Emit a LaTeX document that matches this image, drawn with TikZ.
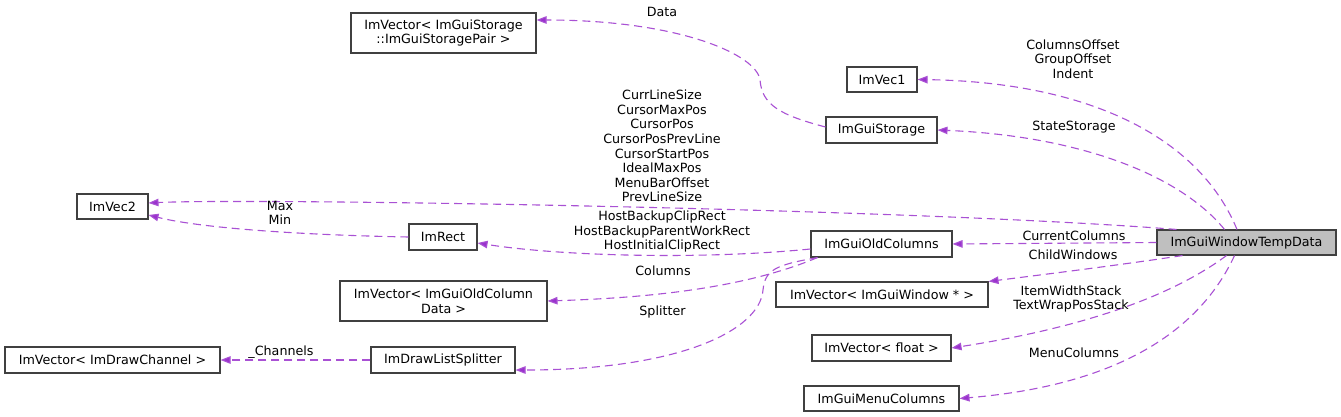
\documentclass[tikz,border=0pt]{standalone}
\usepackage{fontspec}
\setmainfont{DejaVu Sans}
\usetikzlibrary{arrows.meta}
\definecolor{edgec}{HTML}{9A32CD}
\definecolor{boxc}{HTML}{404040}
\definecolor{hifill}{HTML}{BFBFBF}
\begin{document}
\begin{tikzpicture}[x=1pt,y=-1pt,
  every node/.style={font=\fontsize{12.7}{14.6}\selectfont, inner sep=0pt, align=center},
  cls/.style={draw=boxc, line width=1.1pt, fill=white},
  lbl/.style={text=black},
  dep/.style={draw=edgec!85, line width=1.1pt, dash pattern=on 8pt off 5pt, -{Triangle[length=10pt,width=7.5pt,fill=edgec]}}]
\useasboundingbox[fill=white] (0,0) rectangle (1341,417);
% class boxes
\node[cls, minimum width=185pt, minimum height=40pt] (store) at (443.5,33) {ImVector< ImGuiStorage\\::ImGuiStoragePair >};
\node[cls, minimum width=70pt, minimum height=25pt] (vec1) at (882,79.5) {ImVec1};
\node[cls, minimum width=111pt, minimum height=26pt] (storage) at (881.5,130) {ImGuiStorage};
\node[cls, minimum width=71pt, minimum height=25pt] (vec2) at (112.5,206.5) {ImVec2};
\node[cls, minimum width=68pt, minimum height=26pt] (rect) at (443,237) {ImRect};
\node[cls, minimum width=141pt, minimum height=26pt] (oldcols) at (881.5,244) {ImGuiOldColumns};
\node[cls, fill=hifill, minimum width=179pt, minimum height=25pt] (temp) at (1246.5,242.5) {ImGuiWindowTempData};
\node[cls, minimum width=207pt, minimum height=40pt] (coldata) at (443.5,301) {ImVector< ImGuiOldColumn\\Data >};
\node[cls, minimum width=212pt, minimum height=25pt] (winvec) at (882,294.5) {ImVector< ImGuiWindow * >};
\node[cls, minimum width=139pt, minimum height=26pt] (floatvec) at (881.5,348) {ImVector< float >};
\node[cls, minimum width=155pt, minimum height=25pt] (menucols) at (881.5,398.5) {ImGuiMenuColumns};
\node[cls, minimum width=215pt, minimum height=26pt] (channel) at (112.5,360) {ImVector< ImDrawChannel >};
\node[cls, minimum width=144pt, minimum height=26pt] (splitter) at (443,360) {ImDrawListSplitter};
% connectors
\draw[dep] ([xshift=-9.5pt]temp.north) .. controls (1198,135) and (1085,82) .. (vec1.east);
\draw[dep] ([xshift=-22pt]temp.north) .. controls (1180,175) and (1080,136) .. (storage.east);
\draw[dep] ([xshift=-70pt]temp.north) .. controls (900,208) and (250,198) .. ([yshift=3.5pt]vec2.east);
\draw[dep] (temp.west) -- (oldcols.east);
\draw[dep] ([xshift=-64pt]temp.south) .. controls (1120,265) and (1040,275) .. (winvec.north east);
\draw[dep] ([xshift=-20pt]temp.south) .. controls (1180,290) and (1100,325) .. (floatvec.east);
\draw[dep] ([xshift=-12pt]temp.south) .. controls (1200,330) and (1120,385) .. (menucols.east);
\draw[dep] ([yshift=3pt]storage.west) .. controls (780,115) and (762,105) .. (760,80) .. controls (757,55) and (680,20) .. ([yshift=13pt]store.east);
\draw[dep] (rect.west) .. controls (300,235) and (200,228) .. ([yshift=-8.5pt]vec2.east);
\draw[dep] ([yshift=-5pt]oldcols.west) .. controls (700,260) and (560,256) .. ([yshift=-6pt]rect.east);
\draw[dep] ([xshift=-64pt]oldcols.south) .. controls (740,290) and (640,298) .. (coldata.east);
\draw[dep] ([xshift=-64pt]oldcols.south) .. controls (775,265) and (765,270) .. (763,290) .. controls (760,330) and (680,370) .. ([yshift=-10pt]splitter.east);
\draw[dep] (splitter.west) -- (channel.east);
% labels
\node[lbl] (l1) at (1073,59) {ColumnsOffset\\GroupOffset\\Indent};
\node[lbl] (l2) at (1074,127) {StateStorage};
\node[lbl] (l3) at (662,146) {CurrLineSize\\CursorMaxPos\\CursorPos\\CursorPosPrevLine\\CursorStartPos\\IdealMaxPos\\MenuBarOffset\\PrevLineSize};
\node[lbl] (l4) at (1074,236) {CurrentColumns};
\node[lbl] (l5) at (1073,255) {ChildWindows};
\node[lbl] (l6) at (1071,299) {ItemWidthStack\\TextWrapPosStack};
\node[lbl] (l7) at (1074,353) {MenuColumns};
\node[lbl] (l8) at (662,12) {Data};
\node[lbl] (l9) at (662,231.5) {HostBackupClipRect\\HostBackupParentWorkRect\\HostInitialClipRect};
\node[lbl] (l10) at (280,213) {Max\\Min};
\node[lbl] (l11) at (663,271) {Columns};
\node[lbl] (l12) at (662.5,312) {Splitter};
\node[lbl] (l13) at (281,352) {\_Channels};
\end{tikzpicture}
\end{document}
